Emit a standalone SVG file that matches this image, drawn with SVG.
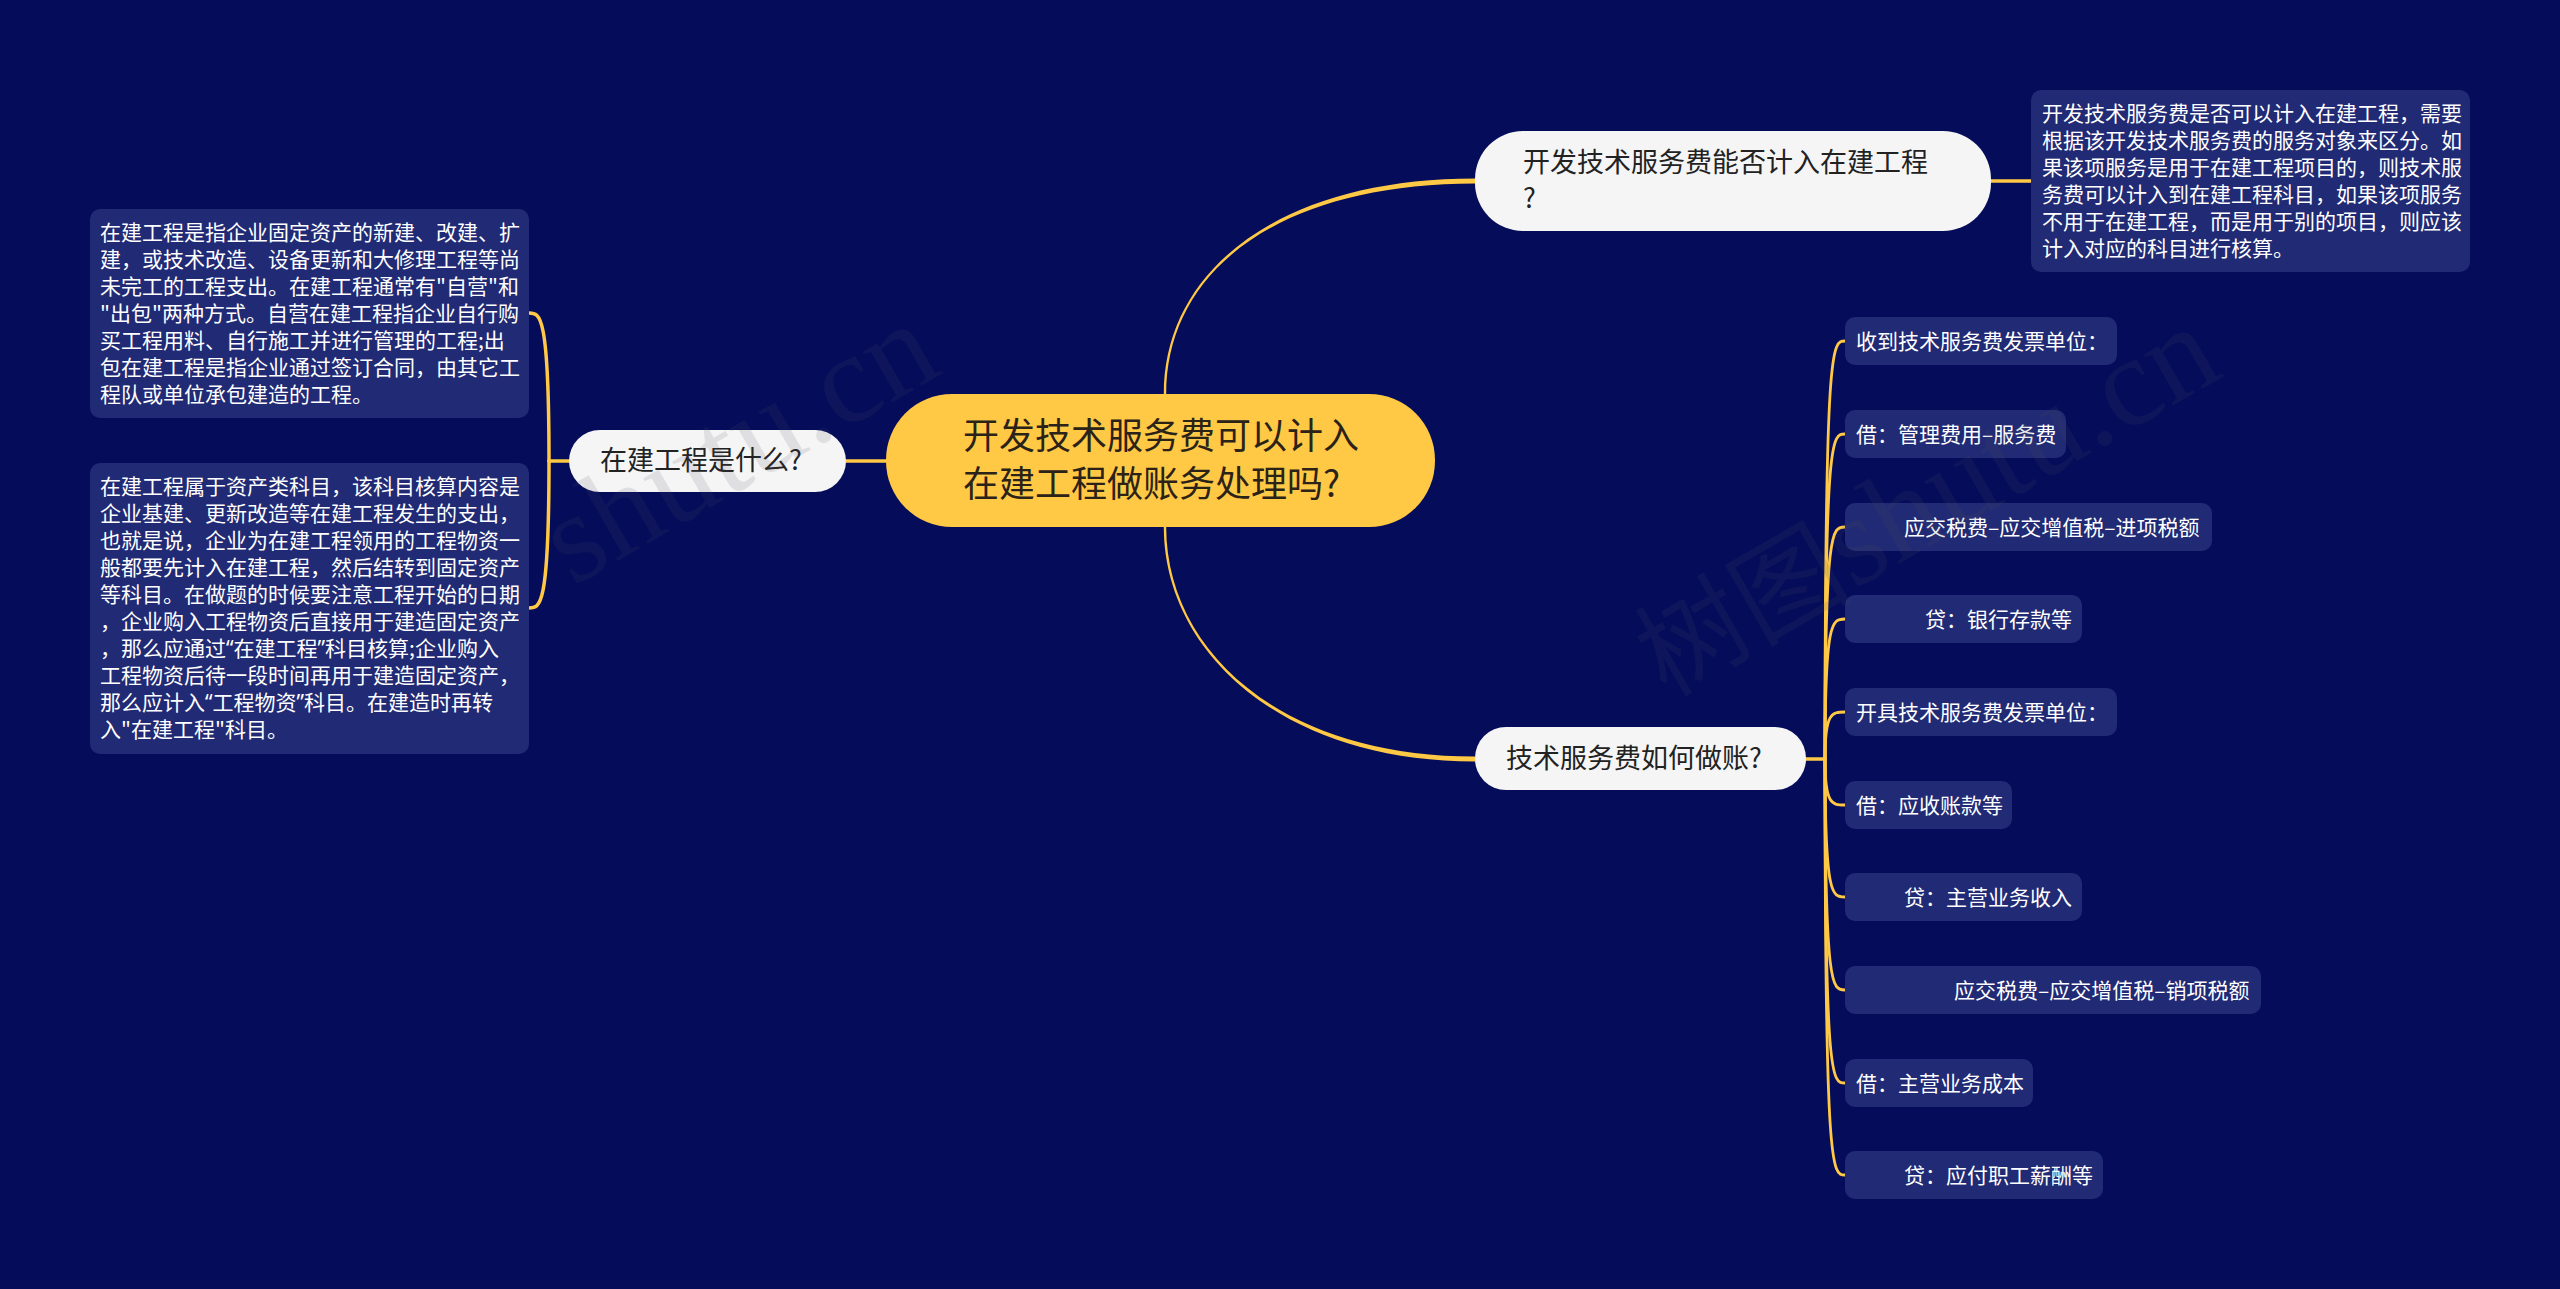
<svg xmlns="http://www.w3.org/2000/svg" width="2560" height="1289" viewBox="0 0 2560 1289">
<style>
text{font-family:"Noto Sans CJK SC","Noto Sans",sans-serif}
.c{fill:none;stroke:#ffc845;stroke-linecap:round}
.f{fill:#ffc845}
.t{stroke-width:3.5}
.l{stroke-width:2.8}
.box{fill:#212a74}
.pill{fill:#f5f5f5}
.n{font-size:21px;fill:#fff}
.q{font-family:"Noto Sans",sans-serif}
.p{font-size:27px;fill:#222}
.r{font-size:36px;fill:#2b2218}
.w{font-size:128px;fill:#505060;opacity:.13;font-family:"Liberation Serif","Noto Sans CJK SC",serif}
.wc{font-size:108px;font-family:"Noto Sans CJK SC",serif}
</style>
<rect width="2560" height="1289" fill="#050c5a"/>
<g id="connectors">
<path class="f" d="M1163.8 394C1163.8 270 1280 178.5 1475 178.5V183.5C1280 183.5 1166.2 270 1166.2 394Z"/>
<path class="f" d="M1163.8 527C1163.8 650 1280 761.5 1475 761.5V756.5C1280 756.5 1166.2 650 1166.2 527Z"/>
<path class="c t" d="M886 461H846"/>
<path class="c t" d="M1991 181H2031"/>
<path class="c t" d="M569 461H549"/>
<path class="c t" d="M549 461C549 313 540 313 529 313"/>
<path class="c t" d="M549 461C549 608 540 608 529 608"/>
<path class="c t" d="M1806 759H1825"/>
<path class="c l" d="M1825 759C1825 341 1832 341 1845 341"/>
<path class="c l" d="M1825 759C1825 434 1832 434 1845 434"/>
<path class="c l" d="M1825 759C1825 527 1832 527 1845 527"/>
<path class="c l" d="M1825 759C1825 619 1832 619 1845 619"/>
<path class="c l" d="M1825 759C1825 712 1832 712 1845 712"/>
<path class="c l" d="M1825 759C1825 805 1832 805 1845 805"/>
<path class="c l" d="M1825 759C1825 897 1832 897 1845 897"/>
<path class="c l" d="M1825 759C1825 990 1832 990 1845 990"/>
<path class="c l" d="M1825 759C1825 1083 1832 1083 1845 1083"/>
<path class="c l" d="M1825 759C1825 1175 1832 1175 1845 1175"/>
</g>
<g id="root"><rect x="886" y="394" width="549" height="133" rx="66" fill="#ffc845"/>
<text class="r" x="963" y="449">开发技术服务费可以计入</text><text class="r" x="963" y="497">在建工程做账务处理吗?</text></g>
<g id="topic-1"><rect class="pill" x="1475" y="131" width="516" height="100" rx="48"/>
<text class="p" x="1523" y="172">开发技术服务费能否计入在建工程</text><text class="p" x="1523" y="208">?</text></g>
<g id="topic-2"><rect class="pill" x="1475" y="727" width="331" height="63" rx="31"/>
<text class="p" x="1506" y="768">技术服务费如何做账?</text></g>
<g id="topic-3"><rect class="pill" x="569" y="430" width="277" height="62" rx="31"/>
<text class="p" x="600" y="470">在建工程是什么?</text></g>
<g id="note-1"><rect class="box" x="2031" y="90" width="439" height="182" rx="10"/>
<text class="n" x="2042" y="121">开发技术服务费是否可以计入在建工程，需要</text>
<text class="n" x="2042" y="148">根据该开发技术服务费的服务对象来区分。如</text>
<text class="n" x="2042" y="175">果该项服务是用于在建工程项目的，则技术服</text>
<text class="n" x="2042" y="202">务费可以计入到在建工程科目，如果该项服务</text>
<text class="n" x="2042" y="229">不用于在建工程，而是用于别的项目，则应该</text>
<text class="n" x="2042" y="256">计入对应的科目进行核算。</text></g>
<g id="note-2"><rect class="box" x="90" y="209" width="439" height="209" rx="10"/>
<text class="n" x="100" y="240">在建工程是指企业固定资产的新建、改建、扩</text>
<text class="n" x="100" y="267">建，或技术改造、设备更新和大修理工程等尚</text>
<text class="n" x="100" y="294">未完工的工程支出。在建工程通常有"自营"和</text>
<text class="n" x="100" y="321">"出包"两种方式。自营在建工程指企业自行购</text>
<text class="n" x="100" y="348">买工程用料、自行施工并进行管理的工程;出</text>
<text class="n" x="100" y="375">包在建工程是指企业通过签订合同，由其它工</text>
<text class="n" x="100" y="402">程队或单位承包建造的工程。</text></g>
<g id="note-3"><rect class="box" x="90" y="463" width="439" height="291" rx="10"/>
<text class="n" x="100" y="494">在建工程属于资产类科目，该科目核算内容是</text>
<text class="n" x="100" y="521">企业基建、更新改造等在建工程发生的支出，</text>
<text class="n" x="100" y="548">也就是说，企业为在建工程领用的工程物资一</text>
<text class="n" x="100" y="575">般都要先计入在建工程，然后结转到固定资产</text>
<text class="n" x="100" y="602">等科目。在做题的时候要注意工程开始的日期</text>
<text class="n" x="100" y="629">，企业购入工程物资后直接用于建造固定资产</text>
<text class="n" x="100" y="656">，那么应通过<tspan class="q">“</tspan>在建工程<tspan class="q">”</tspan>科目核算;企业购入</text>
<text class="n" x="100" y="683">工程物资后待一段时间再用于建造固定资产，</text>
<text class="n" x="100" y="710">那么应计入<tspan class="q">“</tspan>工程物资<tspan class="q">”</tspan>科目。在建造时再转</text>
<text class="n" x="100" y="737">入"在建工程"科目。</text></g>
<g id="leaf-1"><rect class="box" x="1845" y="317" width="272" height="48" rx="10"/><text class="n" x="1856" y="349">收到技术服务费发票单位：</text></g>
<g id="leaf-2"><rect class="box" x="1845" y="410" width="221" height="48" rx="10"/><text class="n" x="1856" y="442">借：管理费用–服务费</text></g>
<g id="leaf-3"><rect class="box" x="1845" y="503" width="367" height="48" rx="10"/><text class="n" x="1904" y="535">应交税费–应交增值税–进项税额</text></g>
<g id="leaf-4"><rect class="box" x="1845" y="595" width="237" height="48" rx="10"/><text class="n" x="1925" y="627">贷：银行存款等</text></g>
<g id="leaf-5"><rect class="box" x="1845" y="688" width="272" height="48" rx="10"/><text class="n" x="1856" y="720">开具技术服务费发票单位：</text></g>
<g id="leaf-6"><rect class="box" x="1845" y="781" width="167" height="48" rx="10"/><text class="n" x="1856" y="813">借：应收账款等</text></g>
<g id="leaf-7"><rect class="box" x="1845" y="873" width="237" height="48" rx="10"/><text class="n" x="1904" y="905">贷：主营业务收入</text></g>
<g id="leaf-8"><rect class="box" x="1845" y="966" width="416" height="48" rx="10"/><text class="n" x="1954" y="998">应交税费–应交增值税–销项税额</text></g>
<g id="leaf-9"><rect class="box" x="1845" y="1059" width="188" height="48" rx="10"/><text class="n" x="1856" y="1091">借：主营业务成本</text></g>
<g id="leaf-10"><rect class="box" x="1845" y="1151" width="258" height="48" rx="10"/><text class="n" x="1904" y="1183">贷：应付职工薪酬等</text></g>
<g id="watermarks">
<text class="w" text-anchor="end" transform="translate(945 372) rotate(-30)">shutu.cn</text>
<text class="w" text-anchor="end" transform="translate(2226 375) rotate(-30)"><tspan class="wc">树图</tspan>shutu.cn</text>
</g>
</svg>
